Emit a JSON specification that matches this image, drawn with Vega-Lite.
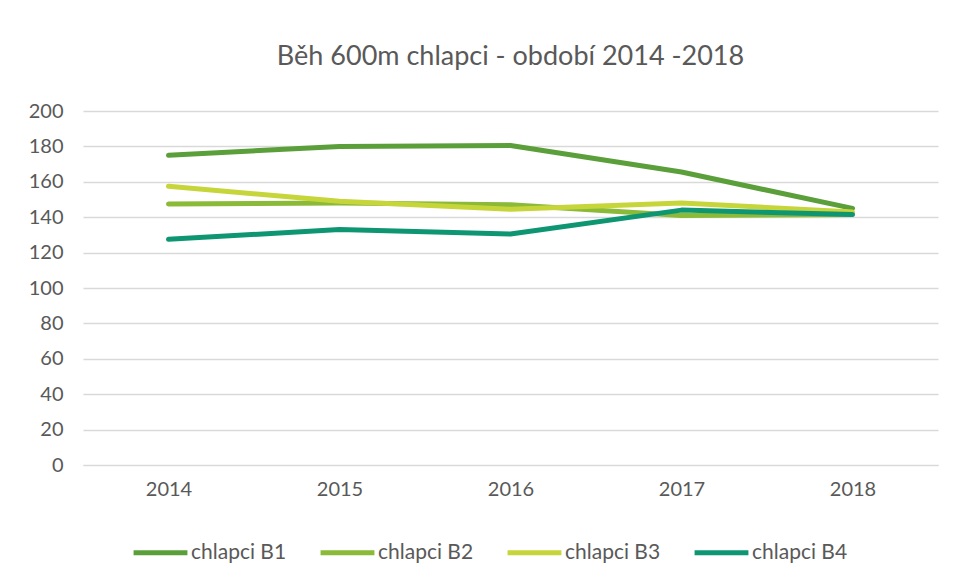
{
  "$schema": "https://vega.github.io/schema/vega-lite/v6.json",
  "width": 855,
  "height": 354,
  "autosize": {"type": "none"},
  "padding": {"left": 83, "top": 111, "right": 19, "bottom": 114},
  "background": "white",
  "title": {
    "text": "Běh 600m chlapci - období 2014 -2018",
    "fontSize": 27,
    "font": "Lato",
    "fontWeight": "normal",
    "color": "#595959",
    "anchor": "middle",
    "offset": 30
  },
  "config": {
    "view": {"stroke": null},
    "font": "Lato"
  },
  "data": {
    "values": [
      {"rok": "2014", "serie": "chlapci B1", "hodnota": 175},
      {"rok": "2015", "serie": "chlapci B1", "hodnota": 180},
      {"rok": "2016", "serie": "chlapci B1", "hodnota": 180.5},
      {"rok": "2017", "serie": "chlapci B1", "hodnota": 165.5},
      {"rok": "2018", "serie": "chlapci B1", "hodnota": 145},
      {"rok": "2014", "serie": "chlapci B2", "hodnota": 147.5},
      {"rok": "2015", "serie": "chlapci B2", "hodnota": 148},
      {"rok": "2016", "serie": "chlapci B2", "hodnota": 147},
      {"rok": "2017", "serie": "chlapci B2", "hodnota": 141},
      {"rok": "2018", "serie": "chlapci B2", "hodnota": 141.5},
      {"rok": "2014", "serie": "chlapci B3", "hodnota": 157.5},
      {"rok": "2015", "serie": "chlapci B3", "hodnota": 149},
      {"rok": "2016", "serie": "chlapci B3", "hodnota": 144.5},
      {"rok": "2017", "serie": "chlapci B3", "hodnota": 148},
      {"rok": "2018", "serie": "chlapci B3", "hodnota": 143},
      {"rok": "2014", "serie": "chlapci B4", "hodnota": 127.5},
      {"rok": "2015", "serie": "chlapci B4", "hodnota": 133},
      {"rok": "2016", "serie": "chlapci B4", "hodnota": 130.5},
      {"rok": "2017", "serie": "chlapci B4", "hodnota": 144},
      {"rok": "2018", "serie": "chlapci B4", "hodnota": 141.5}
    ]
  },
  "mark": {"type": "line", "strokeWidth": 5, "strokeCap": "round", "strokeJoin": "round"},
  "encoding": {
    "x": {
      "field": "rok",
      "type": "ordinal",
      "scale": {"type": "point", "padding": 0.5},
      "axis": {
        "title": null,
        "labelAngle": 0,
        "labelFontSize": 20,
        "labelColor": "#595959",
        "labelPadding": 14,
        "ticks": false,
        "domain": true,
        "domainColor": "#d9d9d9",
        "grid": false
      }
    },
    "y": {
      "field": "hodnota",
      "type": "quantitative",
      "scale": {"domain": [0, 200]},
      "axis": {
        "title": null,
        "values": [0, 20, 40, 60, 80, 100, 120, 140, 160, 180, 200],
        "labelFontSize": 20,
        "labelColor": "#595959",
        "labelPadding": 20,
        "ticks": false,
        "domain": false,
        "gridColor": "#d9d9d9",
        "gridWidth": 1.3
      }
    },
    "color": {
      "field": "serie",
      "type": "nominal",
      "scale": {
        "domain": ["chlapci B1", "chlapci B2", "chlapci B3", "chlapci B4"],
        "range": ["#5a9f3a", "#8aba37", "#c6d63a", "#0e9672"]
      },
      "legend": {
        "orient": "none",
        "legendX": 48,
        "legendY": 412,
        "direction": "horizontal",
        "title": null,
        "symbolType": "stroke",
        "symbolStrokeWidth": 5,
        "symbolSize": 2900,
        "labelFontSize": 21,
        "labelColor": "#595959",
        "labelOffset": 1,
        "columnPadding": 23
      }
    }
  }
}
